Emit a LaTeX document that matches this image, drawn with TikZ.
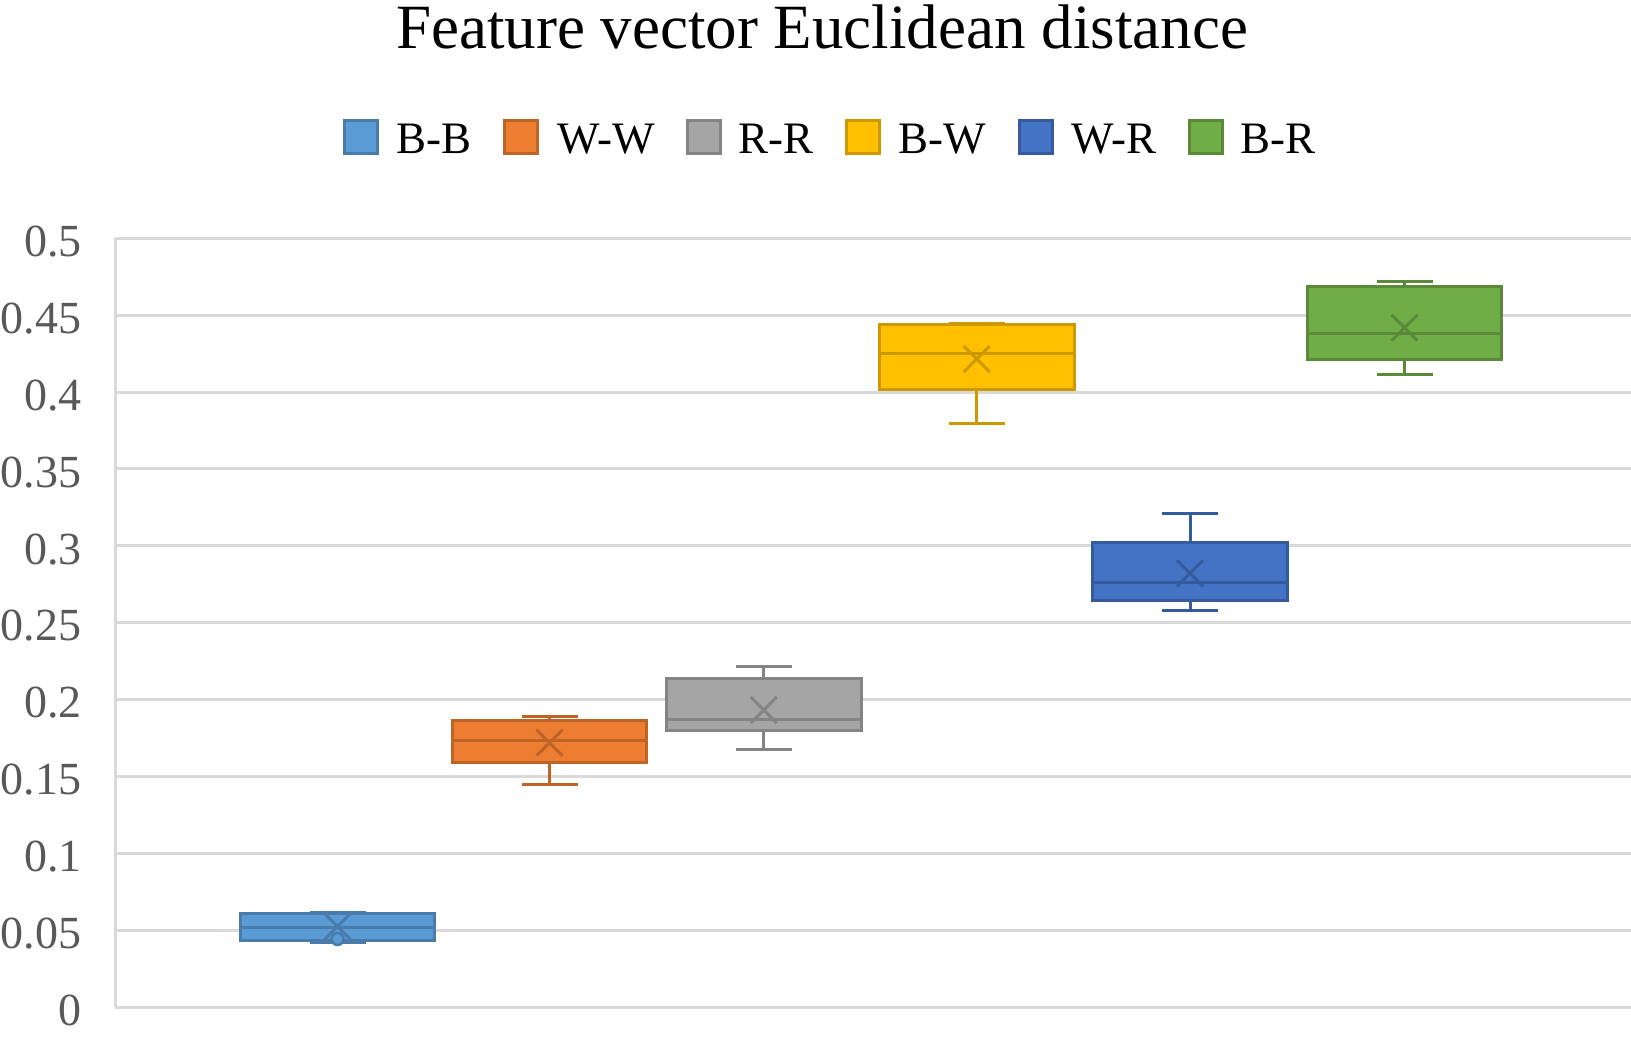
\documentclass[tikz,border=0pt]{standalone}
\usepackage{fontspec}
\setmainfont{Liberation Serif}
\definecolor{gridgray}{HTML}{D9D9D9}
\definecolor{axgray}{HTML}{595959}
\definecolor{fA}{HTML}{5B9BD5}\definecolor{lA}{HTML}{497CAA}
\definecolor{fB}{HTML}{ED7D31}\definecolor{lB}{HTML}{BE6427}
\definecolor{fC}{HTML}{A5A5A5}\definecolor{lC}{HTML}{848484}
\definecolor{fD}{HTML}{FFC000}\definecolor{lD}{HTML}{CC9A00}
\definecolor{fE}{HTML}{4472C4}\definecolor{lE}{HTML}{365B9D}
\definecolor{fF}{HTML}{70AD47}\definecolor{lF}{HTML}{5A8A39}
% cx, whisker top, box top, median, box bottom, whisker bottom, mean y, fill, line
\newcommand\bxplot[9]{%
  \draw[bxline, draw=#9] (#1,#2) -- (#1,#6);
  \draw[bxline, draw=#9] (#1-28,#2) -- (#1+28,#2);
  \draw[bxline, draw=#9] (#1-28,#6) -- (#1+28,#6);
  \filldraw[bxline, fill=#8, draw=#9] (#1-97.3,#3) rectangle (#1+97.3,#5);
  \draw[bxline, draw=#9] (#1-97.3,#4) -- (#1+97.3,#4);
  \draw[bxline, draw=#9] (#1-13,#7-13) -- (#1+13,#7+13) (#1-13,#7+13) -- (#1+13,#7-13);
}
\newcommand\legitem[5]{%
  \filldraw[bxline, fill=#3, draw=#4] (#1+1.5,120.5) rectangle (#1+34.5,153.5);
  \node[legtext] (leg#5) at (#2,153.3) {#5};
}
\begin{document}
\begin{tikzpicture}[x=1pt,y=-1pt,
  gridln/.style={draw=gridgray, line width=3pt},
  bxline/.style={line width=3pt},
  ylab/.style={anchor=base east, inner sep=0pt, text=axgray, font=\fontsize{46}{50}\selectfont},
  legtext/.style={anchor=base west, inner sep=0pt, font=\fontsize{45}{50}\selectfont},
  titletext/.style={anchor=base, inner sep=0pt, font=\fontsize{63}{70}\selectfont}]
\useasboundingbox (0,0) rectangle (1631,1040);
\fill[white] (0,0) rectangle (1631,1040);
% title
\node[titletext] (title) at (822,48.3) {Feature vector Euclidean distance};
% legend
\legitem{342.7}{396}{fA}{lA}{B-B}
\legitem{502.7}{557.3}{fB}{lB}{W-W}
\legitem{685.7}{738.3}{fC}{lC}{R-R}
\legitem{845}{898.3}{fD}{lD}{B-W}
\legitem{1017.7}{1071.7}{fE}{lE}{W-R}
\legitem{1187.7}{1240}{fF}{lF}{B-R}
% grid and axis labels
\foreach \v/\t [count=\i] in {0/0,0.05/0.05,0.1/0.1,0.15/0.15,0.2/0.2,0.25/0.25,0.3/0.3,0.35/0.35,0.4/0.4,0.45/0.45,0.5/0.5}{
  \pgfmathsetmacro\yy{1007-\v*1537.4}
  \draw[gridln] (115,\yy) -- (1631,\yy);
  \node[ylab] (yl\i) at (81.7,\yy+18.3) {\t};
}
\draw[gridln] (115,238.3) -- (115,1007);
% boxes
\bxplot{337.5}{912}{913.3}{927.3}{940}{942.7}{926.5}{fA}{lA}
\filldraw[line width=2.5pt, fill=fA, draw=lA] (337.5,939) circle (6);
\bxplot{549.5}{716}{720.7}{740}{762.3}{784.3}{742.7}{fB}{lB}
\bxplot{763.8}{666}{678.3}{719.3}{730.7}{749}{710}{fC}{lC}
\bxplot{976.7}{323.3}{325}{354}{389.3}{423.3}{359}{fD}{lD}
\bxplot{1190}{513.3}{542.7}{582.3}{600}{610}{573.3}{fE}{lE}
\bxplot{1404.5}{281.3}{286.7}{333.3}{359.3}{374.3}{327.7}{fF}{lF}
\end{tikzpicture}
\end{document}
